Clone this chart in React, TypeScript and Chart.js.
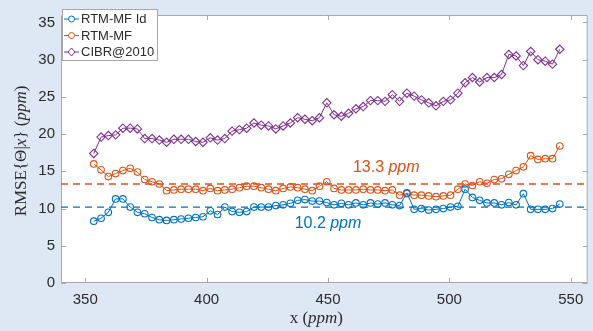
import React, { useEffect, useRef } from "react";
import { Chart, registerables } from "chart.js";
Chart.register(...registerables);

const xValues = [353.5, 356.5, 359.5, 362.5, 365.5, 368.5, 371.5, 374.5, 377.5, 380.5, 383.5, 386.5, 389.5, 392.5, 395.5, 398.5, 401.5, 404.5, 407.5, 410.5, 413.5, 416.5, 419.5, 422.5, 425.5, 428.5, 431.5, 434.5, 437.5, 440.5, 443.5, 446.5, 449.5, 452.5, 455.5, 458.5, 461.5, 464.5, 467.5, 470.5, 473.5, 476.5, 479.5, 482.5, 485.5, 488.5, 491.5, 494.5, 497.5, 500.5, 503.5, 506.5, 509.5, 512.5, 515.5, 518.5, 521.5, 524.5, 527.5, 530.5, 533.5, 536.5, 539.5, 542.5, 545.5];

const rtmIdValues = [8.3, 8.7, 9.5, 11.3, 11.3, 10.2, 9.5, 9.3, 8.8, 8.5, 8.4, 8.5, 8.6, 8.7, 8.8, 8.9, 9.7, 9.2, 10.2, 9.6, 9.5, 9.6, 10.2, 10.2, 10.2, 10.4, 10.5, 10.7, 11.1, 11.2, 11.0, 11.0, 10.8, 10.5, 10.7, 10.5, 10.75, 10.5, 10.75, 10.6, 10.75, 10.5, 10.4, 12.1, 9.9, 10.0, 9.8, 9.9, 10.0, 10.2, 10.3, 12.6, 11.5, 11.1, 10.75, 10.75, 10.5, 10.8, 10.5, 12.0, 9.9, 9.9, 9.9, 10.0, 10.6];

const rtmValues = [16.0, 15.2, 14.3, 14.7, 15.1, 15.4, 14.9, 13.9, 13.6, 13.3, 12.4, 12.5, 12.6, 12.6, 12.6, 12.4, 12.7, 12.4, 12.5, 12.6, 12.8, 13.0, 13.0, 12.8, 12.6, 12.4, 12.7, 12.9, 12.8, 12.6, 12.4, 13.0, 13.6, 12.7, 12.5, 12.5, 12.5, 12.6, 12.5, 12.5, 12.4, 12.5, 11.8, 12.0, 11.8, 11.8, 11.7, 11.6, 11.7, 11.8, 12.6, 13.3, 13.1, 13.6, 13.4, 13.9, 14.0, 14.6, 15.1, 15.6, 17.1, 16.6, 16.7, 16.7, 18.4];

const cibrValues = [17.4, 19.6, 19.8, 19.9, 20.8, 20.8, 20.7, 19.4, 19.4, 19.2, 18.9, 19.3, 19.3, 19.3, 19.0, 18.9, 19.5, 19.2, 19.4, 20.4, 20.6, 20.8, 21.5, 21.2, 21.1, 20.7, 21.1, 21.5, 22.2, 22.0, 21.8, 22.2, 24.2, 22.6, 22.4, 22.8, 23.4, 23.7, 24.5, 24.5, 24.4, 25.3, 24.4, 25.5, 25.1, 24.6, 24.2, 23.8, 24.4, 24.6, 25.5, 26.9, 27.6, 27.0, 27.6, 27.6, 28.0, 30.7, 30.5, 29.2, 31.1, 30.0, 29.8, 29.4, 31.4];

const seriesNames = ["RTM-MF Id", "RTM-MF", "CIBR@2010"];
const meanRtmId = 10.2;
const meanRtm = 13.3;
const xTickValues = [350, 400, 450, 500, 550];
const yTickValues = [0, 5, 10, 15, 20, 25, 30, 35];
const xRange = [340, 557];
const yRange = [0, 36];
const meanRtmLabelPos = [474, 15.5];
const meanRtmIdLabelPos = [450, 8.0];

const BLUE = "#0072BD";
const ORANGE = "#D95319";
const PURPLE = "#7E2F8E";
const AXIS = "#a8a8a8";
const TEXT = "#2b2b2b";
const SANS = "'Liberation Sans', Arial, Helvetica, sans-serif";
const SERIF = "'Liberation Serif', 'DejaVu Serif', serif";

function drawRich(ctx: CanvasRenderingContext2D, parts: { t: string; it: boolean }[], size: number, family: string, cx: number, cy: number) {
  let total = 0;
  for (const p of parts) {
    ctx.font = `${p.it ? "italic " : ""}${size}px ${family}`;
    total += ctx.measureText(p.t).width;
  }
  let x = cx - total / 2;
  ctx.textAlign = "left";
  ctx.textBaseline = "middle";
  for (const p of parts) {
    ctx.font = `${p.it ? "italic " : ""}${size}px ${family}`;
    ctx.fillText(p.t, x, cy);
    x += ctx.measureText(p.t).width;
  }
}

const overlayPlugin = {
  id: "overlay",
  beforeDraw(chart: any) {
    const { ctx, chartArea: a } = chart;
    ctx.save();
    ctx.fillStyle = "#ffffff";
    ctx.fillRect(a.left, a.top, a.right - a.left, a.bottom - a.top);
    ctx.restore();
  },
  beforeDatasetsDraw(chart: any) {
    const { ctx, chartArea: a, scales } = chart;
    const sx = scales.x;
    const sy = scales.y;
    ctx.save();
    ctx.strokeStyle = AXIS;
    ctx.lineWidth = 1;
    ctx.beginPath();
    ctx.rect(a.left + 0.5, a.top + 0.5, a.right - a.left - 1, a.bottom - a.top - 1);
    ctx.stroke();
    ctx.beginPath();
    for (const v of xTickValues) {
      const px = Math.round(sx.getPixelForValue(v)) + 0.5;
      ctx.moveTo(px, a.bottom);
      ctx.lineTo(px, a.bottom - 5);
      ctx.moveTo(px, a.top);
      ctx.lineTo(px, a.top + 5);
    }
    for (const v of yTickValues) {
      const py = Math.round(sy.getPixelForValue(v)) + 0.5;
      ctx.moveTo(a.left, py);
      ctx.lineTo(a.left + 5, py);
      ctx.moveTo(a.right, py);
      ctx.lineTo(a.right - 5, py);
    }
    ctx.stroke();
    ctx.restore();
  },
  afterDraw(chart: any) {
    const { ctx, chartArea: a, scales } = chart;
    const sx = scales.x;
    const sy = scales.y;
    ctx.save();
    // mean labels
    ctx.fillStyle = ORANGE;
    drawRich(ctx, [{ t: meanRtm.toFixed(1) + " ", it: false }, { t: "ppm", it: true }], 16, SANS,
      sx.getPixelForValue(meanRtmLabelPos[0]), sy.getPixelForValue(meanRtmLabelPos[1]));
    ctx.fillStyle = BLUE;
    drawRich(ctx, [{ t: meanRtmId.toFixed(1) + " ", it: false }, { t: "ppm", it: true }], 16, SANS,
      sx.getPixelForValue(meanRtmIdLabelPos[0]), sy.getPixelForValue(meanRtmIdLabelPos[1]));

    // axis titles
    ctx.fillStyle = TEXT;
    drawRich(ctx, [{ t: "x (", it: false }, { t: "ppm", it: true }, { t: ")", it: false }], 17, SERIF,
      (a.left + a.right) / 2 - 8, 319);
    ctx.save();
    ctx.translate(22, (a.top + a.bottom) / 2 + 2);
    ctx.rotate(-Math.PI / 2);
    drawRich(ctx, [
      { t: "RMSE{\u0398|", it: false },
      { t: "x", it: true },
      { t: "} (", it: false },
      { t: "ppm", it: true },
      { t: ")", it: false },
    ], 17, SERIF, 0, 0);
    ctx.restore();

    // legend
    const lx = a.left + 1;
    const ly = 9;
    const lw = 96;
    const lh = 52;
    ctx.fillStyle = "#ffffff";
    ctx.fillRect(lx, ly, lw, lh);
    ctx.strokeStyle = AXIS;
    ctx.lineWidth = 1;
    ctx.strokeRect(lx + 0.5, ly + 0.5, lw - 1, lh - 1);
    const colors = [BLUE, ORANGE, PURPLE];
    ctx.font = `13px ${SANS}`;
    ctx.textBaseline = "middle";
    ctx.textAlign = "left";
    for (let i = 0; i < 3; i++) {
      const yy = ly + 10 + i * 16.5;
      ctx.strokeStyle = colors[i];
      ctx.lineWidth = 1;
      ctx.beginPath();
      ctx.moveTo(lx + 2, yy);
      ctx.lineTo(lx + 17, yy);
      ctx.stroke();
      const mx = lx + 9.5;
      ctx.beginPath();
      if (i < 2) {
        ctx.arc(mx, yy, 3, 0, Math.PI * 2);
      } else {
        ctx.moveTo(mx, yy - 4);
        ctx.lineTo(mx + 3.5, yy);
        ctx.lineTo(mx, yy + 4);
        ctx.lineTo(mx - 3.5, yy);
        ctx.closePath();
      }
      ctx.fillStyle = "#ffffff";
      ctx.fill();
      ctx.stroke();
      ctx.fillStyle = TEXT;
      ctx.fillText(seriesNames[i], lx + 19, yy + 0.5);
    }
    ctx.restore();
  },
};

export default function App() {
  const ref = useRef<HTMLCanvasElement | null>(null);
  useEffect(() => {
    if (!ref.current) return;
    const pts = (vals: number[]) => xValues.map((x, i) => ({ x, y: vals[i] }));
    const hline = (v: number) => [{ x: xRange[0], y: v }, { x: xRange[1], y: v }];
    const chart = new Chart(ref.current, {
      type: "line",
      data: {
        datasets: [
          { label: seriesNames[0], data: pts(rtmIdValues), borderColor: BLUE, backgroundColor: "rgba(0,0,0,0)", borderWidth: 1, pointRadius: 3.3, pointBorderWidth: 1.1, pointStyle: "circle", pointBackgroundColor: "rgba(0,0,0,0)", pointBorderColor: BLUE },
          { label: seriesNames[1], data: pts(rtmValues), borderColor: ORANGE, backgroundColor: "rgba(0,0,0,0)", borderWidth: 1, pointRadius: 3.3, pointBorderWidth: 1.1, pointStyle: "circle", pointBackgroundColor: "rgba(0,0,0,0)", pointBorderColor: ORANGE },
          { label: seriesNames[2], data: pts(cibrValues), borderColor: PURPLE, backgroundColor: "rgba(0,0,0,0)", borderWidth: 1, pointRadius: 4.2, pointBorderWidth: 1.1, pointStyle: "rectRot", pointBackgroundColor: "rgba(0,0,0,0)", pointBorderColor: PURPLE },
          { label: "mean RTM-MF", data: hline(meanRtm), borderColor: ORANGE, borderWidth: 1.3, borderDash: [7, 5], pointRadius: 0 },
          { label: "mean RTM-MF Id", data: hline(meanRtmId), borderColor: BLUE, borderWidth: 1.3, borderDash: [7, 5], pointRadius: 0 },
        ],
      },
      options: {
        responsive: false,
        animation: false,
        devicePixelRatio: 1,
        layout: { padding: { left: 0, right: 0, top: 5, bottom: 0 } },
        plugins: { legend: { display: false }, tooltip: { enabled: false } },
        scales: {
          x: {
            type: "linear",
            min: xRange[0],
            max: xRange[1],
            grid: { display: false, drawTicks: false },
            border: { display: false },
            ticks: { color: TEXT, font: { family: SANS, size: 15 }, padding: 8, maxRotation: 0 },
            afterBuildTicks: (s: any) => { s.ticks = xTickValues.map((v) => ({ value: v })); },
            afterFit: (s: any) => { s.height = 48; },
          },
          y: {
            type: "linear",
            min: yRange[0],
            max: yRange[1],
            grid: { display: false, drawTicks: false },
            border: { display: false },
            ticks: { color: TEXT, font: { family: SANS, size: 15 }, padding: 6 },
            afterBuildTicks: (s: any) => { s.ticks = yTickValues.map((v) => ({ value: v })); },
            afterFit: (s: any) => { s.width = 61; },
          },
        },
      },
      plugins: [overlayPlugin],
    } as any);
    return () => chart.destroy();
  }, []);
  return (
    <div style={{ position: "fixed", left: 0, top: 0, width: 593, height: 331, background: "#dde8f4" }}>
      <canvas ref={ref} width={593} height={331} style={{ display: "block" }} />
    </div>
  );
}
